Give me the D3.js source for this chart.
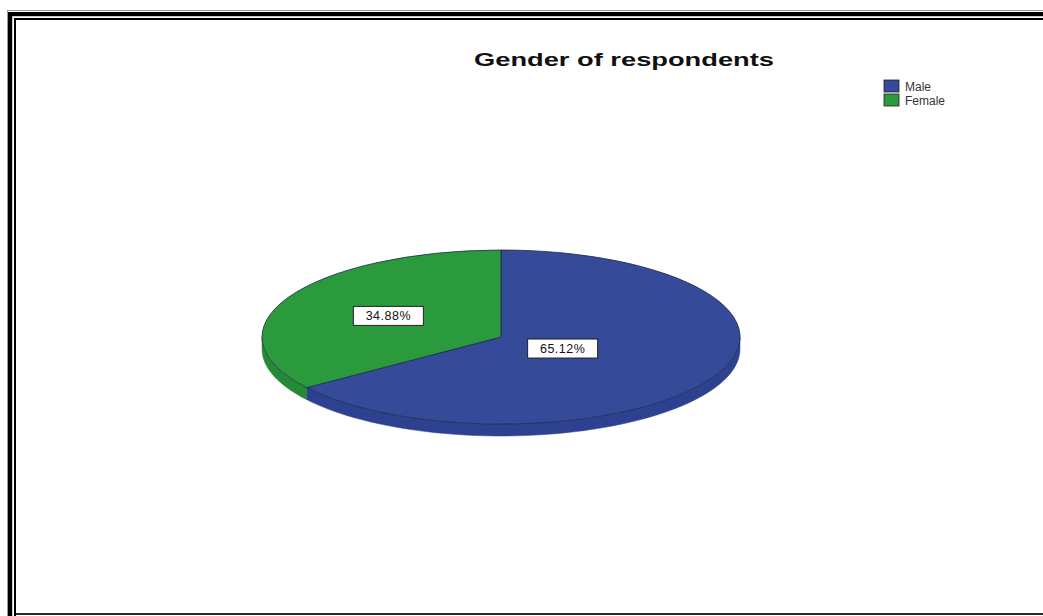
<!DOCTYPE html>
<html>
<head>
<meta charset="utf-8">
<script src="https://cdn.jsdelivr.net/npm/d3@7"></script>
<style>
  body { margin: 0; background: #fff; }
  svg { display: block; }
</style>
</head>
<body>
<div id="graph"></div>
<script>
var width = 1043, height = 616;

// data
var categories = ["Male", "Female"];
var percents = [65.12, 34.88];
var colors = ["#354a98", "#2b9a3d"];
var sideColors = ["#2d4190", "#248a35"];
var title = "Gender of respondents";

var data = categories.map((c, i) => ({name: c, value: percents[i]}));

// pie geometry (ellipse, SPSS style 3D)
var cx = 501, cy = 337, rx = 239, ry = 87, depth = 12;
var labelR = [0.29, 0.53];

var svg = d3.select("#graph").append("svg")
    .attr("width", width)
    .attr("height", height);

// frame
var frame = svg.append("g").attr("shape-rendering", "crispEdges");
frame.append("rect").attr("x", 0).attr("y", 0).attr("width", width).attr("height", height).attr("fill", "#fff");
frame.append("path").attr("d", `M7.5,616V10.5H1043`).attr("fill", "none").attr("stroke", "#9a9a9a").attr("stroke-width", 1);
frame.append("path").attr("d", `M10,616V14H1043`).attr("fill", "none").attr("stroke", "#000").attr("stroke-width", 4);
frame.append("path").attr("d", `M12.5,616V16.5H1043`).attr("fill", "none").attr("stroke", "#c8c8c8").attr("stroke-width", 1);
frame.append("path").attr("d", `M15,616V19H1043`).attr("fill", "none").attr("stroke", "#000").attr("stroke-width", 2);
frame.append("path").attr("d", `M16,614H1043`).attr("fill", "none").attr("stroke", "#2a2a2a").attr("stroke-width", 2);

// title
svg.append("text")
    .attr("x", 624)
    .attr("y", 66)
    .attr("text-anchor", "middle")
    .attr("font-family", "Liberation Sans, Arial, sans-serif")
    .attr("font-weight", "bold")
    .attr("font-size", 19)
    .attr("textLength", 300)
    .attr("lengthAdjust", "spacingAndGlyphs")
    .attr("fill", "#111")
    .text(title);

// legend
var legend = svg.append("g")
    .attr("font-family", "Liberation Sans, Arial, sans-serif")
    .attr("font-size", 12)
    .selectAll("g")
    .data(data)
    .join("g")
      .attr("transform", (d, i) => `translate(884,${80 + i * 14})`);
legend.append("rect")
    .attr("width", 15).attr("height", 12)
    .attr("fill", (d, i) => colors[i])
    .attr("stroke", "#222").attr("stroke-width", 0.8);
legend.append("text")
    .attr("x", 21).attr("y", 10.5)
    .attr("fill", "#333")
    .text(d => d.name);

var pie = d3.pie().sort(null).value(d => d.value);
var arcs = pie(data);

var ex = a => cx + rx * Math.sin(a);
var ey = a => cy - ry * Math.cos(a);

// side walls (visible front half: angles pi/2 .. 3pi/2)
var side = svg.append("g");
arcs.forEach((d, i) => {
  var a0 = Math.max(d.startAngle, Math.PI / 2);
  var a1 = Math.min(d.endAngle, Math.PI * 3 / 2);
  if (a1 <= a0) return;
  var n = 60, pts = [];
  for (var k = 0; k <= n; k++) { var a = a0 + (a1 - a0) * k / n; pts.push([ex(a), ey(a)]); }
  for (var k = n; k >= 0; k--) { var a = a0 + (a1 - a0) * k / n; pts.push([ex(a), ey(a) + depth]); }
  side.append("path")
      .attr("d", d3.line()(pts) + "Z")
      .attr("fill", sideColors[i])
      .attr("stroke", sideColors[i])
      .attr("stroke-width", 0.5);
});

// top face
var arc = d3.arc().innerRadius(0).outerRadius(1);
svg.append("g")
    .attr("transform", `translate(${cx},${cy}) scale(${rx},${ry})`)
  .selectAll("path")
  .data(arcs)
  .join("path")
    .attr("d", arc)
    .attr("fill", (d, i) => colors[i])
    .attr("stroke", "#1c2a4a")
    .attr("stroke-width", 0.8)
    .attr("vector-effect", "non-scaling-stroke");

// labels
var labels = svg.append("g")
    .attr("font-family", "Liberation Sans, Arial, sans-serif")
    .attr("font-size", 12.5)
  .selectAll("g")
  .data(arcs)
  .join("g")
    .attr("transform", (d, i) => {
      var m = (d.startAngle + d.endAngle) / 2;
      return `translate(${cx + rx * labelR[i] * Math.sin(m)},${cy - ry * labelR[i] * Math.cos(m)})`;
    });
labels.append("rect")
    .attr("x", -35).attr("y", -9.5)
    .attr("width", 70).attr("height", 19)
    .attr("fill", "#fff")
    .attr("stroke", "#222")
    .attr("stroke-width", 1);
labels.append("text")
    .attr("text-anchor", "middle")
    .attr("y", 4.5)
    .attr("fill", "#111")
    .attr("letter-spacing", 0.5)
    .text(d => d.data.value.toFixed(2) + "%");
</script>
</body>
</html>
